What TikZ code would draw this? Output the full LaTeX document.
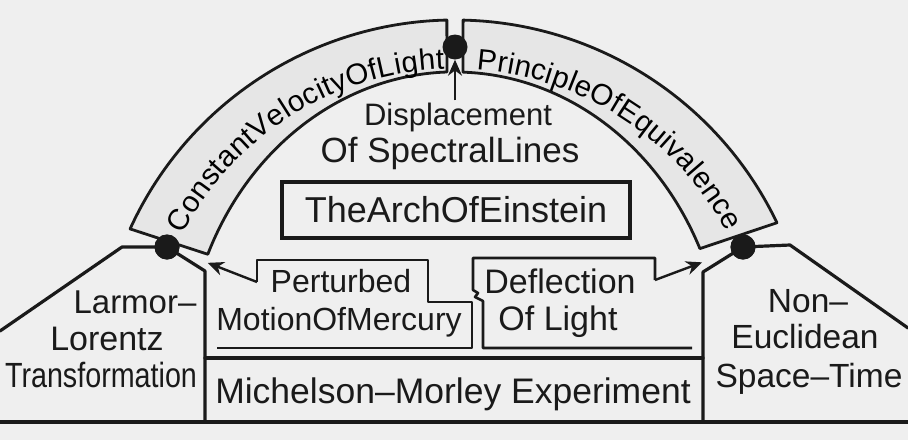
\documentclass[tikz,border=0pt]{standalone}
\usepackage{fontspec}
\setmainfont{Liberation Sans}
\usetikzlibrary{arrows.meta,decorations.text}
\definecolor{AInk}{HTML}{1A1A1A}
\definecolor{APaper}{HTML}{EFEFEF}
\definecolor{ABand}{HTML}{E6E6E6}
\newcommand{\fs}[1]{\fontsize{#1}{#1}\selectfont}
\newcommand{\archfont}{\fontsize{29.5}{29.5}\selectfont}

\begin{document}
\begin{tikzpicture}[x=1pt, y=-1pt, every node/.style={text=AInk, inner sep=0pt},
  wall/.style={draw=AInk, line width=3.2pt, line join=round, line cap=round},
  boxline/.style={draw=AInk, line width=2.6pt, line join=round},
  band/.style={draw=AInk, fill=ABand, line width=2.8pt, line join=round},
  titlebox/.style={draw=AInk, line width=3.4pt, minimum width=348pt, minimum height=56pt},
  word/.style={anchor=base},
  blob/.style={circle, fill=AInk, minimum size=25pt},
  arrow/.style={-{Stealth[length=16pt, width=14pt]}, draw=AInk, line width=2.4pt}]
\fill[APaper] (0,0) rectangle (908,440);
\useasboundingbox (0,0) rectangle (908,440);
% the arch, split at the keystone
\path[band] (130.1,228.9) arc[start angle=-155.5, end angle=-91.3, radius=357] -- (447,72)
  arc[start angle=-91.7, end angle=-156.3, x radius=270, y radius=305] -- cycle;
\path[band] (463.1,20.1) arc[start angle=-88.7, end angle=-25.6, radius=357] -- (699.9,248.6)
  arc[start angle=-24.9, end angle=-88.3, x radius=270, y radius=305] -- cycle;
\path[AInk, decorate, decoration={text along path, text align={fit to path},
  text={|\archfont|ConstantVelocityOfLight}}] (182.7,234.3) arc[start angle=-152.5, end angle=-92, radius=307];
\path[AInk, decorate, decoration={text along path, text align={fit to path},
  text={|\archfont|PrincipleOfEquivalence}}] (476.4,69.7) arc[start angle=-86, end angle=-28, radius=307];
% piers and ground
\node[blob] (ldot) at (167,247) {};
\node[blob] (tdot) at (455,47) {};
\node[blob] (rdot) at (743,247) {};
\draw[wall] (0,331) -- (122,247) -- (ldot.center) -- (205,271) -- (205,422);
\draw[wall] (908,328) -- (790,245) -- (rdot.center) -- (703,272) -- (703,422);
\draw[wall] (0,422) -- (908,422);
\draw[wall] (205,358) -- (703,358);
\node[blob] at (ldot) {};
\node[blob] at (rdot) {};
% texts
\node[titlebox, font=\fs{36}] (title) at (456,210) {TheArchOfEinstein};
\node[word, font=\fs{31}] (disp1) at (458,125) {Displacement};
\node[word, font=\fs{35}] (disp2) at (450,162) {Of SpectralLines};
\node[word, font=\fs{32}] (pert1) at (341,292) {Perturbed};
\node[word, font=\fs{32}] (pert2) at (339,330) {MotionOfMercury};
\node[word, font=\fs{34}] (defl1) at (560,293) {Deflection};
\node[word, font=\fs{34}] (defl2) at (558,330) {Of Light};
\node[word, font=\fs{35.5}] (mm) at (453,403) {Michelson–Morley Experiment};
\node[word, font=\fs{33}] (larmor) at (135,313) {Larmor–};
\node[word, font=\fs{34}] (lorentz) at (107,350) {Lorentz};
\node[word, font=\fs{35}] (transf) at (101,387) {\scalebox{0.82}[1]{Transformation}};
\node[word, font=\fs{33.5}] (non) at (808,312) {Non–};
\node[word, font=\fs{33.5}] (eucl) at (805,348) {Euclidean};
\node[word, font=\fs{33.5}] (spacetime) at (809,387) {Space–Time};
% the two boxes under the arch
\coordinate (pertc) at (257,282);
\coordinate (deflc) at (655,280);
\draw[boxline] (pertc) -- (257,260) -- (428,260) -- (428,302) -- (472,302) -- (472,348) -- (217,348);
\draw[boxline] (deflc) -- (655,258) -- (473,258) -- (473,290) -- (478,293) -- (475,297) -- (483,301)
  -- (483,348) -- (692,348);
\draw[arrow, shorten >=31pt] (pertc) -- (ldot);
\draw[arrow, shorten >=31pt] (deflc) -- (rdot);
\draw[arrow, shorten <=2pt] (tdot |- disp1.north) -- (tdot);
\end{tikzpicture}
\end{document}
